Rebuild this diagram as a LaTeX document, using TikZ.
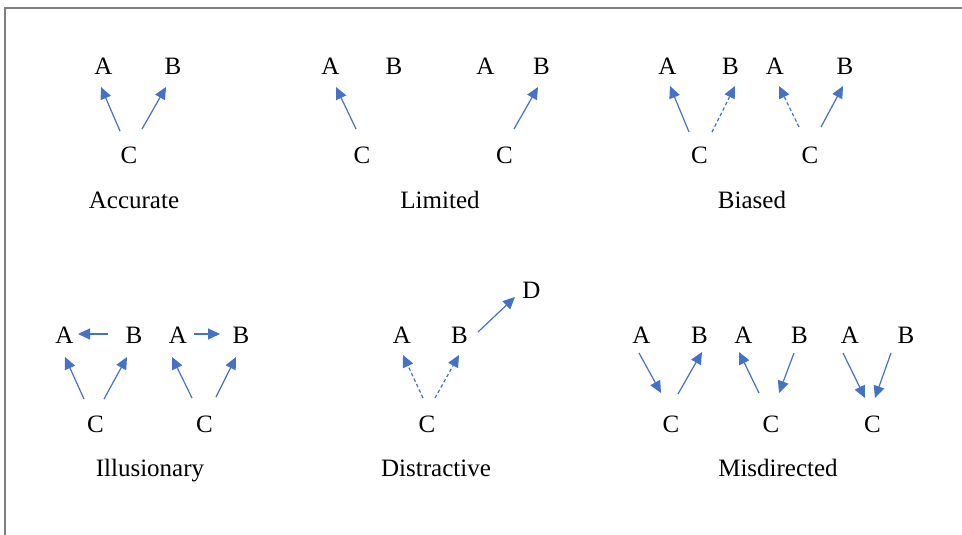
\documentclass[tikz,border=0pt]{standalone}
\usepackage{fontspec}
\setmainfont{Liberation Serif}
\usetikzlibrary{arrows.meta,calc}
\definecolor{arrblue}{HTML}{4472C4}
\definecolor{framegray}{HTML}{808080}
\tikzset{
  lt/.style={anchor=base, inner sep=0pt, font=\fontsize{25}{30}\selectfont},
  arr/.style={draw=arrblue, line width=1.2pt, -{Triangle[length=12pt,width=11pt]}, arrblue},
  darr/.style={arr, dash pattern=on 3.5pt off 2.5pt},
}
\begin{document}
\begin{tikzpicture}[x=1pt,y=-1pt]
\useasboundingbox (0,0) rectangle (962,535);
\draw[framegray, line width=1.2pt] (5,535) -- (5,8) -- (962,8);

% ---------- Row 1 ----------
% Accurate
\node[lt] (a1) at (103.5,75) {A};
\node[lt] (b1) at (173,75) {B};
\node[lt] (c1) at (129,163) {C};
\node[lt] (l1) at (134,208) {Accurate};
\draw[arr] ($(c1.base)+(-9,-32)$) -- ($(a1.base)+(-2.5,12)$);
\draw[arr] ($(c1.base)+(13,-34)$) -- ($(b1.base)+(-7,12)$);

% Limited
\node[lt] (a2) at (330.5,75) {A};
\node[lt] (b2) at (394,75) {B};
\node[lt] (c2) at (362,163) {C};
\node[lt] (a3) at (485.5,75) {A};
\node[lt] (b3) at (541.5,75) {B};
\node[lt] (c3) at (504.5,163) {C};
\node[lt] (l2) at (440,208) {Limited};
\draw[arr] ($(c2.base)+(-6,-34)$) -- ($(a2.base)+(5.5,12)$);
\draw[arr] ($(c3.base)+(9.5,-34)$) -- ($(b3.base)+(-3.5,12)$);

% Biased
\node[lt] (a4) at (667.5,75) {A};
\node[lt] (b4) at (730.5,75) {B};
\node[lt] (c4) at (699.5,163) {C};
\node[lt] (a5) at (775,75) {A};
\node[lt] (b5) at (845,75) {B};
\node[lt] (c5) at (810,163) {C};
\node[lt] (l3) at (752,208) {Biased};
\draw[arr] ($(c4.base)+(-10.5,-31)$) -- ($(a4.base)+(2.5,11)$);
\draw[darr] ($(c4.base)+(12.5,-31)$) -- ($(b4.base)+(4.5,11)$);
\draw[darr] ($(c5.base)+(-11,-36)$) -- ($(a5.base)+(4,11)$);
\draw[arr] ($(c5.base)+(11,-36)$) -- ($(b5.base)+(-2,11)$);

% ---------- Row 2 ----------
% Illusionary
\node[lt] (a6) at (64.5,343) {A};
\node[lt] (b6) at (134,343) {B};
\node[lt] (c6) at (95.5,432) {C};
\node[lt] (a7) at (178,343) {A};
\node[lt] (b7) at (241,343) {B};
\node[lt] (c7) at (204.5,432) {C};
\node[lt] (l4) at (150,476) {Illusionary};
\draw[arr] ($(b6.base)+(-26,-9)$) -- ($(a6.base)+(13.5,-9)$);
\draw[arr] ($(c6.base)+(-11.5,-33)$) -- ($(a6.base)+(0.5,14)$);
\draw[arr] ($(c6.base)+(8.5,-33)$) -- ($(b6.base)+(-7,14)$);
\draw[arr] ($(a7.base)+(16,-9)$) -- ($(b7.base)+(-21,-9)$);
\draw[arr] ($(c7.base)+(-12.5,-34)$) -- ($(a7.base)+(-6,14)$);
\draw[arr] ($(c7.base)+(11.5,-35)$) -- ($(b7.base)+(-5,14)$);

% Distractive
\node[lt] (a8) at (402,343) {A};
\node[lt] (b8) at (459.5,343) {B};
\node[lt] (c8) at (427,432) {C};
\node[lt] (d8) at (531.5,298) {D};
\node[lt] (l5) at (436,476) {Distractive};
\draw[darr] ($(c8.base)+(-4,-34)$) -- ($(a8.base)+(1,12)$);
\draw[darr] ($(c8.base)+(8,-34)$) -- ($(b8.base)+(-0.5,12)$);
\draw[arr] ($(b8.base)+(18.5,-11)$) -- ($(d8.base)+(-16.5,-1)$);

% Misdirected
\node[lt] (a9) at (641.5,343) {A};
\node[lt] (b9) at (699.5,343) {B};
\node[lt] (c9) at (671,432) {C};
\node[lt] (a10) at (743.5,343) {A};
\node[lt] (b10) at (799.5,343) {B};
\node[lt] (c10) at (771,432) {C};
\node[lt] (a11) at (850,343) {A};
\node[lt] (b11) at (906,343) {B};
\node[lt] (c11) at (872.5,432) {C};
\node[lt] (l6) at (778,476) {Misdirected};
\draw[arr] ($(a9.base)+(-2.5,10)$) -- ($(c9.base)+(-10,-39)$);
\draw[arr] ($(c9.base)+(7,-38)$) -- ($(b9.base)+(2.5,9)$);
\draw[arr] ($(c10.base)+(-12,-39)$) -- ($(a10.base)+(-4.5,9)$);
\draw[arr] ($(b10.base)+(-5.5,10)$) -- ($(c10.base)+(8,-39)$);
\draw[arr] ($(a11.base)+(-7,10)$) -- ($(c11.base)+(-7.5,-34)$);
\draw[arr] ($(b11.base)+(-15,10)$) -- ($(c11.base)+(2.5,-34)$);
\end{tikzpicture}
\end{document}
